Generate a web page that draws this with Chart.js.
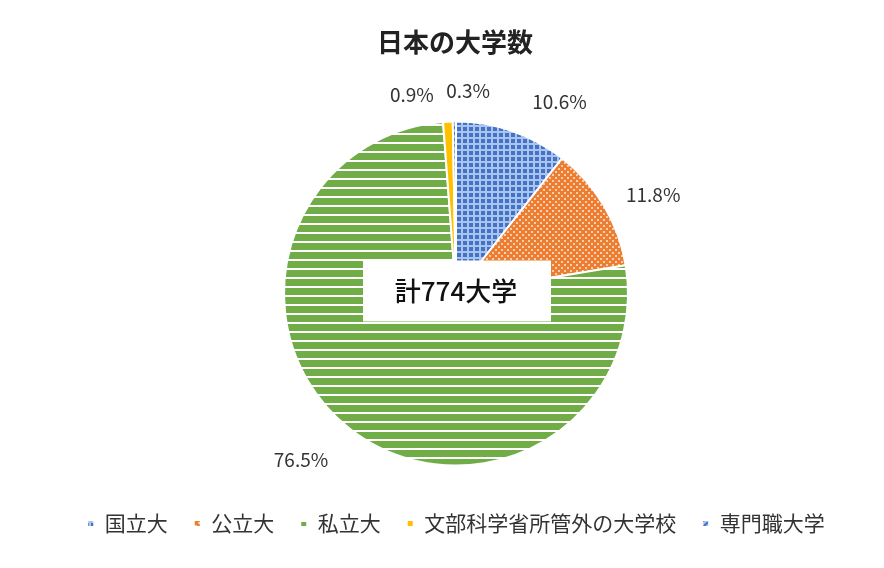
<!DOCTYPE html>
<html><head><meta charset="utf-8">
<script src="https://cdn.jsdelivr.net/npm/chart.js@4"></script>
<style>html,body{margin:0;background:#fff}#wrap{width:884px;height:568px}</style>
</head><body><div id="wrap"><canvas id="c"></canvas></div>
<script>
const categories = ['国立大', '公立大', '私立大', '文部科学省所管外の大学校', '専門職大学'];
const shares = [10.6, 11.8, 76.5, 0.9, 0.3];
const centerText = '計774大学';
const FONT = '"Noto Sans CJK JP", "Noto Sans", sans-serif';

function makePattern(kind) {
  const c = document.createElement('canvas');
  const ctx = c.getContext('2d');
  if (kind === 'grid') {
    c.width = c.height = 6;
    ctx.fillStyle = '#a9c4ee'; ctx.fillRect(0, 0, 6, 6);
    ctx.fillStyle = '#4472c4'; ctx.fillRect(1, 1, 4, 4);
  } else if (kind === 'dots') {
    c.width = c.height = 6;
    ctx.fillStyle = '#ed7d31'; ctx.fillRect(0, 0, 6, 6);
    ctx.fillStyle = '#f8cfb0'; ctx.fillRect(0, 0, 2, 2); ctx.fillRect(3, 3, 2, 2);
  } else if (kind === 'stripes') {
    c.width = 8; c.height = 9;
    ctx.fillStyle = '#70ad47'; ctx.fillRect(0, 0, 8, 9);
    ctx.fillStyle = '#ffffff'; ctx.fillRect(0, 7, 8, 2);
  } else if (kind === 'diag') {
    c.width = c.height = 6;
    ctx.fillStyle = '#a9c4ee'; ctx.fillRect(0, 0, 6, 6);
    ctx.strokeStyle = '#4472c4'; ctx.lineWidth = 2;
    ctx.beginPath(); ctx.moveTo(0, 6); ctx.lineTo(6, 0); ctx.stroke();
  }
  return document.createElement('canvas').getContext('2d').createPattern(c, 'repeat');
}
const fills = [makePattern('grid'), makePattern('dots'), makePattern('stripes'), '#ffc000', makePattern('diag')];

const labelOffsets = [[40, -8], [30, 0], [-35, 13], [-35, -5], [14, -8]];

const extras = {
  id: 'extras',
  afterDraw(chart) {
    const ctx = chart.ctx;
    ctx.save();
    ctx.fillStyle = '#222';
    ctx.font = 'bold 26px ' + FONT;
    ctx.textAlign = 'center'; ctx.textBaseline = 'middle';
    ctx.fillText('日本の大学数', 455, 42);
    ctx.font = '19px ' + FONT;
    ctx.fillStyle = '#333';
    chart.getDatasetMeta(0).data.forEach((arc, i) => {
      const mid = (arc.startAngle + arc.endAngle) / 2;
      const r = arc.outerRadius * 1.13;
      const x = arc.x + Math.cos(mid) * r + labelOffsets[i][0];
      const y = arc.y + Math.sin(mid) * r + labelOffsets[i][1];
      ctx.fillText(shares[i].toFixed(1) + '%', x, y);
    });
    const a = chart.getDatasetMeta(0).data[0];
    ctx.fillStyle = '#fff';
    ctx.fillRect(a.x - 93, a.y - 33, 188, 61);
    ctx.fillStyle = '#111';
    ctx.font = '500 26px ' + FONT;
    ctx.fillText(centerText, a.x, a.y - 2);
    ctx.restore();
  }
};

new Chart(document.getElementById('c'), {
  type: 'pie',
  data: {
    labels: categories,
    datasets: [{ data: shares, backgroundColor: fills, borderColor: '#fff', borderWidth: 2 }]
  },
  options: {
    responsive: true, maintainAspectRatio: false, animation: false,
    radius: 172,
    layout: { padding: { top: 100, bottom: 24, left: 28 } },
    plugins: {
      tooltip: { enabled: false },
      legend: {
        position: 'bottom',
        labels: { boxWidth: 7, boxHeight: 7, color: '#333', padding: 26, font: { size: 21, family: FONT } }
      }
    }
  },
  plugins: [extras]
});
</script></body></html>
